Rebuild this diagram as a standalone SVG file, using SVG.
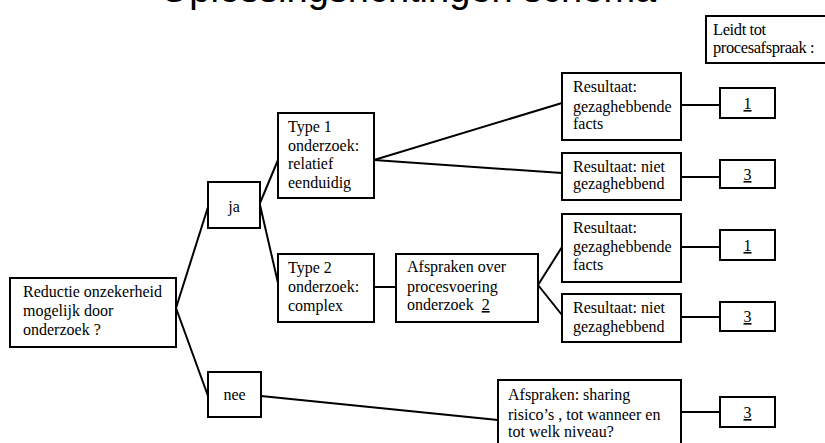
<svg xmlns="http://www.w3.org/2000/svg" width="825" height="443" viewBox="0 0 825 443">
<style>
.box{fill:#fff;stroke:#000;stroke-width:2}
.t{font-family:"Liberation Serif","Times New Roman",serif;font-size:16px;fill:#000}
.n{font-family:"Liberation Serif","Times New Roman",serif;font-size:16px;fill:#000;text-anchor:middle;text-decoration:underline}
.c line{stroke:#000;stroke-width:2}
.title{font-family:"Liberation Sans",Arial,sans-serif;font-size:38px;fill:#000;text-anchor:middle}
.lg{font-family:"Liberation Serif","Times New Roman",serif;font-size:16.5px;letter-spacing:-0.4px;fill:#000}
</style>
<rect width="825" height="443" fill="#fff"/>
<text class="title" x="408" y="2">Oplossingsrichtingen schema</text>
<g class="c" id="connectors">
<line x1="176" y1="308" x2="208" y2="207"/>
<line x1="176" y1="308" x2="208" y2="396"/>
<line x1="260" y1="203" x2="278" y2="160"/>
<line x1="260" y1="205" x2="278" y2="283"/>
<line x1="374" y1="160" x2="562" y2="103"/>
<line x1="374" y1="160" x2="562" y2="173"/>
<line x1="374" y1="287" x2="396" y2="287"/>
<line x1="538" y1="285" x2="562" y2="247"/>
<line x1="538" y1="285" x2="562" y2="315"/>
<line x1="681" y1="105" x2="720" y2="105"/>
<line x1="681" y1="177" x2="720" y2="177"/>
<line x1="681" y1="247" x2="720" y2="247"/>
<line x1="681" y1="317" x2="720" y2="317"/>
<line x1="681" y1="412" x2="720" y2="412"/>
<line x1="261" y1="396" x2="498" y2="420"/>
</g>
<g id="legend">
<rect class="box" x="706" y="16" width="130" height="47"/>
<text class="lg" x="713" y="35">Leidt tot</text>
<text class="lg" x="713" y="53">procesafspraak :</text>
</g>
<g id="reductie">
<rect class="box" x="10" y="278" width="166" height="69"/>
<text class="t" x="23" y="297">Reductie onzekerheid</text>
<text class="t" x="23" y="316">mogelijk door</text>
<text class="t" x="23" y="335">onderzoek ?</text>
</g>
<g id="ja">
<rect class="box" x="208" y="182" width="52" height="46"/>
<text class="t" x="234" y="212" text-anchor="middle">ja</text>
</g>
<g id="nee">
<rect class="box" x="208" y="372" width="53" height="45"/>
<text class="t" x="234.5" y="400" text-anchor="middle">nee</text>
</g>
<g id="type1">
<rect class="box" x="278" y="113" width="96" height="85"/>
<text class="t" x="288" y="132">Type 1</text>
<text class="t" x="288" y="151">onderzoek:</text>
<text class="t" x="288" y="169">relatief</text>
<text class="t" x="288" y="188">eenduidig</text>
</g>
<g id="type2">
<rect class="box" x="278" y="254" width="96" height="68"/>
<text class="t" x="288" y="273">Type 2</text>
<text class="t" x="288" y="292">onderzoek:</text>
<text class="t" x="288" y="311">complex</text>
</g>
<g id="afspraken-proces">
<rect class="box" x="396" y="254" width="142" height="68"/>
<text class="t" x="407" y="272">Afspraken over</text>
<text class="t" x="407" y="292">procesvoering</text>
<text class="t" x="407" y="310">onderzoek <tspan dx="4" text-decoration="underline">2</tspan></text>
</g>
<g id="res1a">
<rect class="box" x="562" y="73" width="119" height="67"/>
<text class="t" x="573" y="92">Resultaat:</text>
<text class="t" x="573" y="112">gezaghebbende</text>
<text class="t" x="573" y="129">facts</text>
</g>
<g id="res1b">
<rect class="box" x="562" y="153" width="119" height="47"/>
<text class="t" x="573" y="172">Resultaat: niet</text>
<text class="t" x="573" y="189">gezaghebbend</text>
</g>
<g id="res2a">
<rect class="box" x="562" y="214" width="119" height="68"/>
<text class="t" x="573" y="233">Resultaat:</text>
<text class="t" x="573" y="252">gezaghebbende</text>
<text class="t" x="573" y="270">facts</text>
</g>
<g id="res2b">
<rect class="box" x="562" y="294" width="119" height="48"/>
<text class="t" x="573" y="313">Resultaat: niet</text>
<text class="t" x="573" y="332">gezaghebbend</text>
</g>
<g id="sharing">
<rect class="box" x="498" y="380" width="183" height="70"/>
<text class="t" x="508" y="400">Afspraken: sharing</text>
<text class="t" x="508" y="420">risico’s , tot wanneer en</text>
<text class="t" x="508" y="437">tot  welk niveau?</text>
</g>
<g id="p1a">
<rect class="box" x="720" y="88" width="55" height="30"/>
<text class="n" x="747.5" y="109">1</text>
</g>
<g id="p3a">
<rect class="box" x="720" y="160" width="55" height="28"/>
<text class="n" x="747.5" y="180">3</text>
</g>
<g id="p1b">
<rect class="box" x="720" y="230" width="55" height="30"/>
<text class="n" x="747.5" y="251">1</text>
</g>
<g id="p3b">
<rect class="box" x="720" y="302" width="55" height="29"/>
<text class="n" x="747.5" y="322">3</text>
</g>
<g id="p3c">
<rect class="box" x="720" y="397" width="55" height="30"/>
<text class="n" x="747.5" y="418">3</text>
</g>
</svg>
